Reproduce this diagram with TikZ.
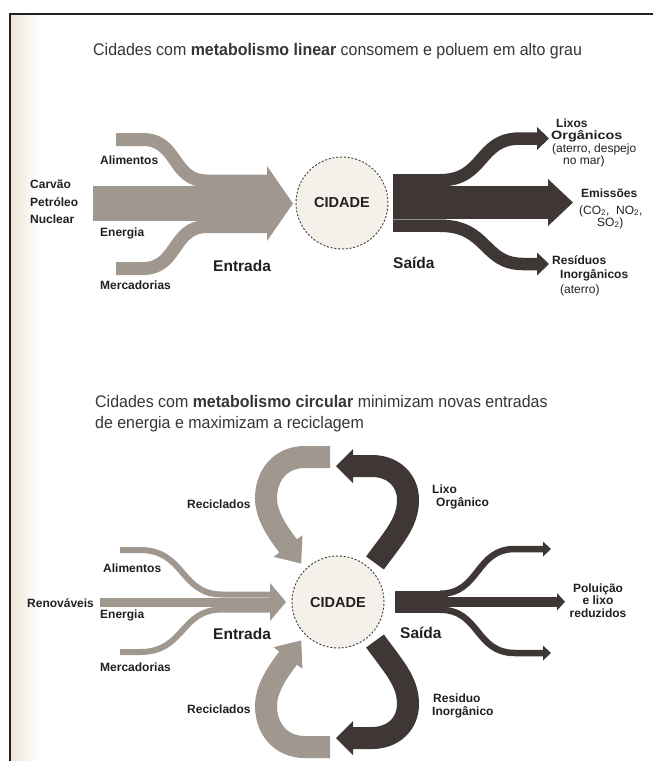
\documentclass[tikz,border=0pt]{standalone}
\usepackage{fontspec}
\setmainfont{Liberation Sans}
\newfontfamily\titlefont[FakeStretch=0.95]{Liberation Sans}
\definecolor{lite}{HTML}{A0978E}
\definecolor{dark}{HTML}{3F3735}
\definecolor{txt}{HTML}{231F20}
\definecolor{cityfill}{HTML}{F4F0EA}
\definecolor{beige}{HTML}{EFE4D6}
\begin{document}
\begin{tikzpicture}[x=1pt,y=-1pt,
  lbl/.style={font=\bfseries\fontsize{12}{13}\selectfont, text=txt, inner sep=0pt, anchor=base west},
  lblc/.style={lbl, anchor=base},
  big/.style={font=\bfseries\fontsize{15.5}{16}\selectfont, text=txt, inner sep=0pt, anchor=base west},
  note/.style={font=\fontsize{12}{13}\selectfont, text=txt, inner sep=0pt, anchor=base west},
  ttl/.style={font=\titlefont\fontsize{16.8}{21}\selectfont, text=txt!90, inner sep=0pt, anchor=base west},
  cityc/.style={circle, minimum size=92pt, inner sep=0pt, fill=cityfill, draw=dark,
     line width=0.9pt, dash pattern=on 2pt off 1.8pt,
     font=\bfseries\fontsize{14.5}{15}\selectfont, text=txt},
  liteband/.style={draw=lite},
  darkband/.style={draw=dark}]
\useasboundingbox (0,0) rectangle (653,761);
\fill[white] (0,0) rectangle (653,761);
% scan tint and frame
\shade[left color=beige, right color=white] (11,15) rectangle (40,761);
\draw[line width=2.5pt, txt] (10,761) -- (10,14) -- (653,14);

% ---------------- titles
\node[ttl] (t1) at (93,55) {Cidades com \textbf{metabolismo linear} consomem e poluem em alto grau};
\node[ttl] (t2) at (95,407) {Cidades com \textbf{metabolismo circular} minimizam novas entradas};
\node[ttl] (t3) at (95,428) {de energia e maximizam a reciclagem};

% ================= LINEAR =================
% input
\fill[lite] (93,186) rectangle (268,221);
\draw[liteband, line width=13pt] (116,139.5) -- (143,139.5) .. controls (178,139.5) and (172,181) .. (207,181) -- (268,181);
\draw[liteband, line width=13pt] (116,268.5) -- (143,268.5) .. controls (178,268.5) and (172,226.5) .. (207,226.5) -- (268,226.5);
\fill[lite] (267,166) -- (293,203.5) -- (267,241) -- cycle;
% output
\fill[dark] (393,174) rectangle (446,232);
\fill[dark] (444,186) rectangle (549,219);
\fill[dark] (548,179) -- (573,202.5) -- (548,226) -- cycle;
\draw[darkband, line width=12.5pt] (440,180.25) .. controls (485,180.25) and (478,138.5) .. (520,138.5) -- (538,138.5);
\fill[dark] (537,127) -- (549,138.5) -- (537,150) -- cycle;
\draw[darkband, line width=12.5pt] (440,225.75) .. controls (488,225.75) and (483,264) .. (523,264) -- (538,264);
\fill[dark] (537,252.5) -- (549,264) -- (537,275.5) -- cycle;
\draw[line width=0.8pt, dark!55!white] (393,219) -- (446,219);
% city
\node[cityc] (c1) at (342,203) {CIDADE};
% labels
\node[lbl] (l1) at (100,164) {Alimentos};
\node[lbl] (l2) at (30,188) {Carvão};
\node[lbl] (l3) at (30,206) {Petróleo};
\node[lbl] (l4) at (30,223) {Nuclear};
\node[lbl] (l5) at (100,236) {Energia};
\node[lbl] (l6) at (100,289) {Mercadorias};
\node[big] (l7) at (213,271) {Entrada};
\node[big] (l8) at (393,268) {Saída};
\node[lbl] (r1) at (556,127) {Lixos};
\node[lbl] (r2) at (551,139) {\scalebox{1.2}[1]{Orgânicos}};
\node[note] (r3) at (552,152) {(aterro, despejo};
\node[note] (r4) at (563,164) {no mar)};
\node[lbl] (r5) at (581,197) {Emissões};
\node[note] (r6) at (579,214) {(CO\textsubscript{2},\ \ NO\textsubscript{2},};
\node[note] (r7) at (597,226) {SO\textsubscript{2})};
\node[lbl] (r8) at (552,264) {Resíduos};
\node[lbl] (r9) at (560,278) {Inorgânicos};
\node[note] (r10) at (560,293) {(aterro)};

% ================= CIRCULAR =================
% input
\fill[lite] (100,597.5) rectangle (271,606.5);
\draw[liteband, line width=6pt] (120,550) -- (140,550) .. controls (185,550) and (180,594.5) .. (222,594.5) -- (271,594.5);
\draw[liteband, line width=6pt] (120,652) -- (140,652) .. controls (185,652) and (180,609.5) .. (222,609.5) -- (271,609.5);
\fill[lite] (270,583) -- (286,602) -- (270,621) -- cycle;
% recycling loops (light)
\draw[liteband, line width=22pt] (330,457) -- (305,457) .. controls (280,457) and (266,476) .. (266,498)
   .. controls (266,515) and (277,531.6) .. (289,547);
\fill[lite] (302.4,535.2) -- (301.2,563.6) -- (273.6,556.8) -- cycle;
\draw[liteband, line width=22pt] (330,747) -- (305,747) .. controls (280,747) and (266,728) .. (266,706)
   .. controls (266,689) and (277,672.4) .. (289,657);
\fill[lite] (302.4,668.8) -- (301.2,640.4) -- (273.6,647.2) -- cycle;
% waste loops (dark)
\draw[darkband, line width=22pt] (375,563) .. controls (393,538) and (408,523) .. (408,500)
   .. controls (408,480) and (393,466) .. (372,466) -- (352,466);
\fill[dark] (353,449) -- (336,466) -- (353,483) -- cycle;
\draw[darkband, line width=22pt] (375,641) .. controls (393,666) and (408,681) .. (408,704)
   .. controls (408,724) and (393,738) .. (372,738) -- (352,738);
\fill[dark] (353,755) -- (336,738) -- (353,721) -- cycle;
% output
\fill[dark] (395,590.5) rectangle (448,613);
\fill[dark] (445,596.5) rectangle (558,607);
\fill[dark] (557,593) -- (565,601.75) -- (557,610.5) -- cycle;
\draw[darkband, line width=6.5pt] (440,593.75) .. controls (480,593.75) and (475,549) .. (515,549) -- (544,549);
\fill[dark] (543,541.5) -- (551,549) -- (543,556.5) -- cycle;
\draw[darkband, line width=6.5pt] (440,609.75) .. controls (480,609.75) and (475,653) .. (515,653) -- (544,653);
\fill[dark] (543,645.5) -- (551,653) -- (543,660.5) -- cycle;
% city
\node[cityc] (c2) at (338,602) {CIDADE};
% labels
\node[lbl] (b1) at (187,508) {Reciclados};
\node[lbl] (b2) at (187,713) {Reciclados};
\node[lbl] (b3) at (103,572) {Alimentos};
\node[lbl] (b4) at (27,607) {Renováveis};
\node[lbl] (b5) at (100,618) {Energia};
\node[lbl] (b6) at (100,671) {Mercadorias};
\node[big] (b7) at (213,639) {Entrada};
\node[big] (b8) at (400,638) {Saída};
\node[lbl] (b9) at (432,493) {Lixo};
\node[lbl] (b10) at (436,506) {Orgânico};
\node[lblc] (b11) at (598,592) {Poluição};
\node[lblc] (b12) at (598,604) {e lixo};
\node[lblc] (b13) at (598,617) {reduzidos};
\node[lbl] (b14) at (433,702) {Residuo};
\node[lbl] (b15) at (432,715) {Inorgânico};
\end{tikzpicture}
\end{document}
